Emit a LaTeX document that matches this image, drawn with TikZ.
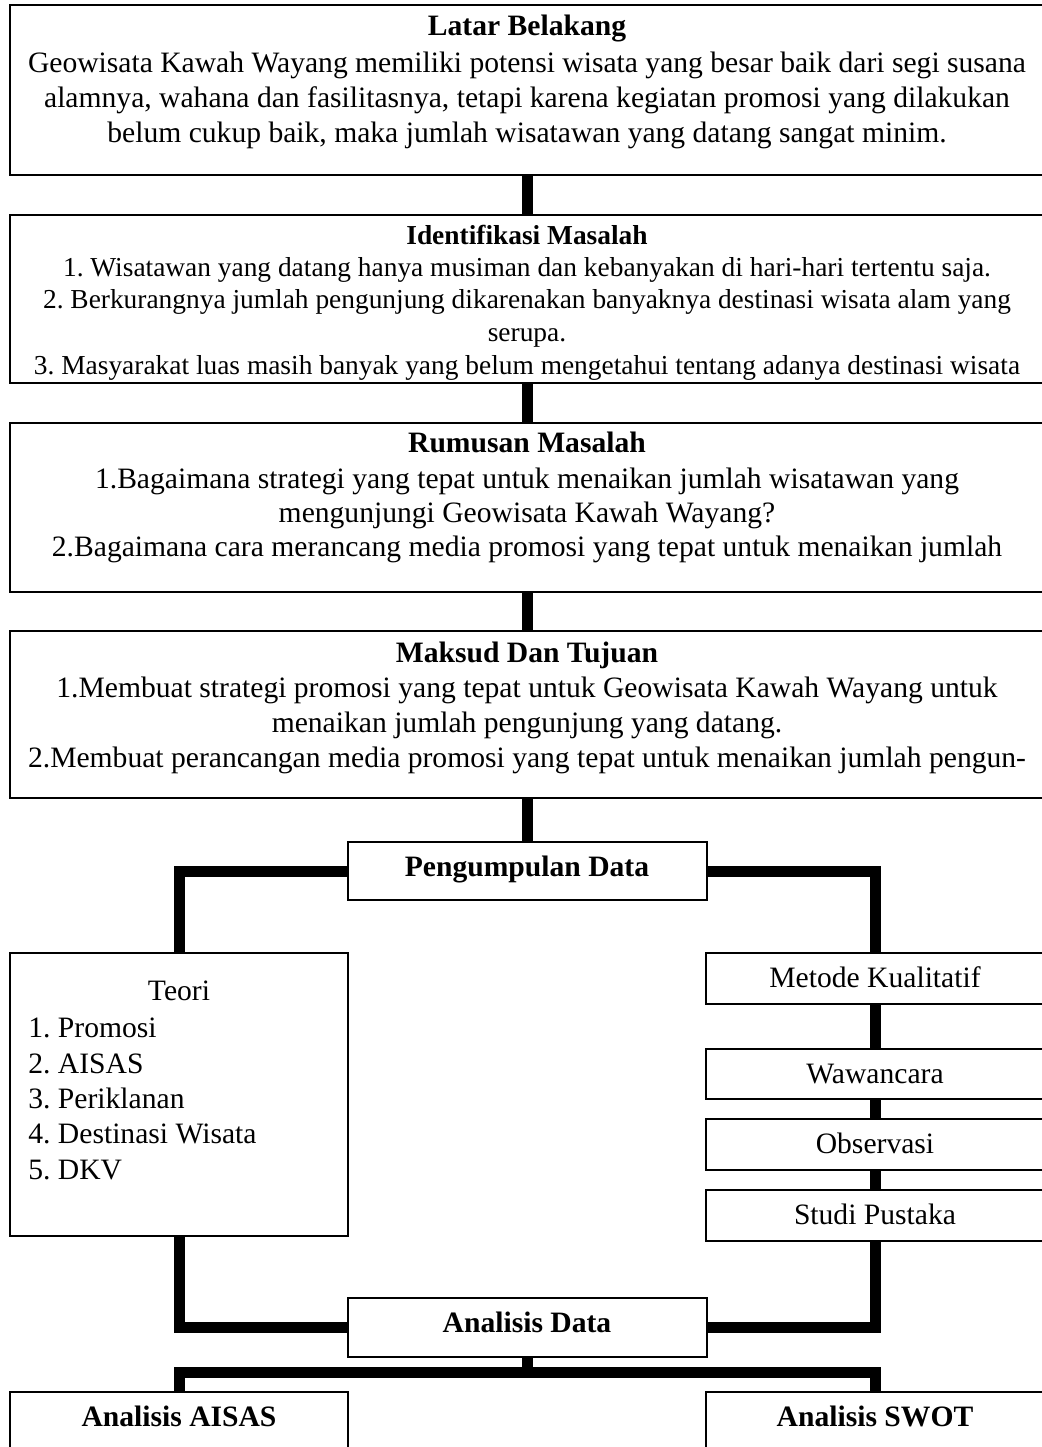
\documentclass[tikz,border=0pt]{standalone}
\usepackage{fontspec}
\setmainfont{Liberation Serif}
\usepackage{tikz}
\usetikzlibrary{positioning}
\frenchspacing

\tikzset{
  box/.style={draw, line width=1pt, inner sep=0pt},
  sbox/.style={box, minimum width=169pt, minimum height=25.5pt, text height=10pt, text depth=1pt, font=\fontsize{14.8}{18}\selectfont},
  keybox/.style={box, minimum width=179.5pt, minimum height=29pt, text height=10pt, text depth=5pt, font=\fontsize{14.8}{18}\selectfont\bfseries},
  txt/.style={anchor=base, inner sep=0pt, font=\fontsize{14.8}{18}\selectfont},
  ttl/.style={txt, font=\fontsize{14.8}{18}\selectfont\bfseries},
  conn/.style={line width=5.5pt}
}

\begin{document}
\begin{tikzpicture}[x=0.5pt, y=-0.5pt]
\useasboundingbox (0,0) rectangle (1042,1447);
\clip (0,0) rectangle (1042,1447);
\node (lb) [box, minimum width=517pt, minimum height=85pt] at (527,90) {};
\node (im) [box, minimum width=517pt, minimum height=84pt] at (527,299) {};
\node (rm) [box, minimum width=517pt, minimum height=84.5pt] at (527,507.5) {};
\node (mt) [box, minimum width=517pt, minimum height=83.5pt] at (527,714.5) {};
\node (lbt) [ttl] at (527,35) {Latar Belakang};
\foreach \y/\t in {72/{Geowisata Kawah Wayang memiliki potensi wisata yang besar baik dari segi susana},
  107/{alamnya, wahana dan fasilitasnya, tetapi karena kegiatan promosi yang dilakukan},
  142/{belum cukup baik, maka jumlah wisatawan yang datang sangat minim.}}
  \node (lb\y) [txt] at (527,\y) {\t};
\node (imt) [ttl, font=\fontsize{13.7}{16}\selectfont\bfseries] at (527,244) {Identifikasi Masalah};
\foreach \y/\t in {276/{1. Wisatawan yang datang hanya musiman dan kebanyakan di hari-hari tertentu saja.},
  308/{2. Berkurangnya jumlah pengunjung dikarenakan banyaknya destinasi wisata alam yang},
  341/{serupa.},
  374/{3. Masyarakat luas masih banyak yang belum mengetahui tentang adanya destinasi wisata}}
  \node (im\y) [txt, font=\fontsize{13.7}{16}\selectfont] at (527,\y) {\t};
\node (rmt) [ttl] at (527,452) {Rumusan Masalah};
\foreach \y/\t in {488/{1.Bagaimana strategi yang tepat untuk menaikan jumlah wisatawan yang},
  522/{mengunjungi Geowisata Kawah Wayang?},
  556/{2.Bagaimana cara merancang media promosi yang tepat untuk menaikan jumlah}}
  \node (rm\y) [txt] at (527,\y) {\t};
\node (mtt) [ttl] at (527,662) {Maksud Dan Tujuan};
\foreach \y/\t in {697/{1.Membuat strategi promosi yang tepat untuk Geowisata Kawah Wayang untuk},
  732/{menaikan jumlah pengunjung yang datang.},
  767/{2.Membuat perancangan media promosi yang tepat untuk menaikan jumlah pengun-}}
  \node (mt\y) [txt] at (527,\y) {\t};
\node (pd) [keybox] at (527,871) {Pengumpulan Data};
\node (teori) [box, minimum width=169pt, minimum height=141.5pt] at (179,1094.5) {};
\node (teorit) [txt] at (179,1000) {Teori};
\foreach \y/\t in {1037/1. Promosi, 1073/2. AISAS, 1108/3. Periklanan, 1143/4. Destinasi Wisata, 1179/5. DKV}
  \node (th\y) [txt, anchor=base west] at (28,\y) {\t};
\node (mk) [sbox] at (875,978.5) {Metode Kualitatif};
\node (ww) [sbox, minimum height=25pt] at (875,1074) {Wawancara};
\node (ob) [sbox] at (875,1144.5) {Observasi};
\node (sp) [sbox] at (875,1215.5) {Studi Pustaka};
\node (ad) [keybox, minimum height=29.5pt] at (527,1327.5) {Analisis Data};
\node (aa) [keybox, minimum width=169pt] at (179,1421) {Analisis AISAS};
\node (as) [keybox, minimum width=169pt] at (875,1421) {Analisis SWOT};
\coordinate (bar) at (527,1372);
\draw[conn] (lb.south) -- (im.north);
\draw[conn] (im.south) -- (rm.north);
\draw[conn] (rm.south) -- (mt.north);
\draw[conn] (mt.south) -- (pd.north);
\draw[conn] (pd.west) -| (teori.north);
\draw[conn] (pd.east) -| (mk.north);
\draw[conn] (mk.south) -- (ww.north);
\draw[conn] (ww.south) -- (ob.north);
\draw[conn] (ob.south) -- (sp.north);
\draw[conn] (teori.south) |- (ad.west);
\draw[conn] (sp.south) |- (ad.east);
\draw[conn] (ad.south) -- (bar);
\draw[conn] (aa.north) |- (bar) -| (as.north);
\end{tikzpicture}
\end{document}
